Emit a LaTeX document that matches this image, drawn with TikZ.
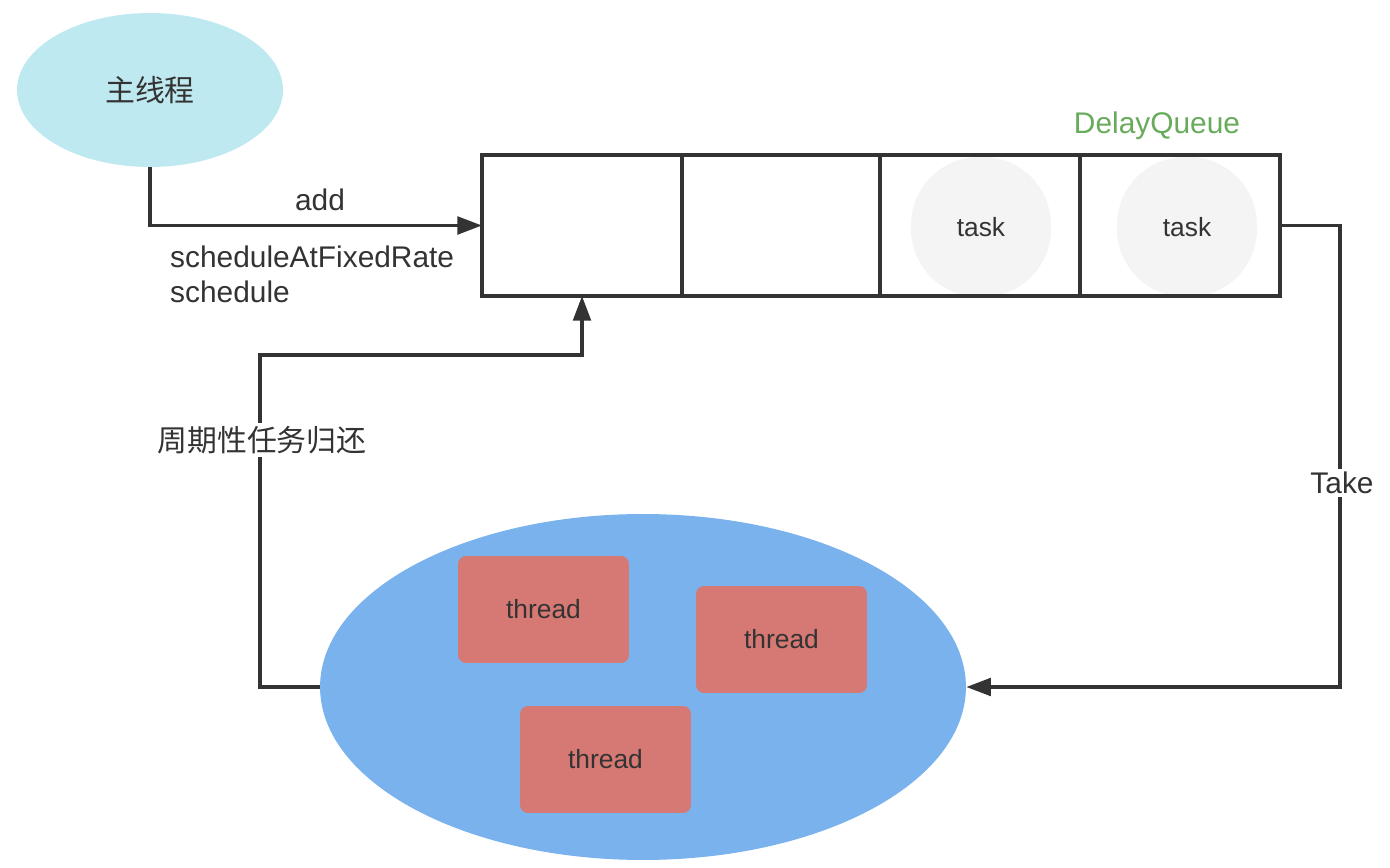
\documentclass[tikz,border=0pt]{standalone}
\usepackage{fontspec}
\setmainfont{Liberation Sans}
\newfontfamily\cjk{Noto Sans CJK SC}
\usetikzlibrary{shapes.geometric,arrows.meta}
\definecolor{ink}{HTML}{333333}
\definecolor{mainblue}{HTML}{BFE9F0}
\definecolor{poolblue}{HTML}{7AB2EE}
\definecolor{threadred}{HTML}{D67873}
\definecolor{taskgrey}{HTML}{F4F4F4}
\definecolor{qgreen}{HTML}{67AB5B}
\begin{document}
\begin{tikzpicture}[x=0.02cm,y=-0.02cm,
    big/.style={font=\fontsize{17}{20}\selectfont,text=ink},
    small/.style={font=\fontsize{15}{18}\selectfont,text=ink},
    cell/.style={draw=ink,line width=3.5pt*0.567,minimum width=4cm,minimum height=2.82cm,inner sep=0,outer sep=0},
    taskbox/.style={fill=taskgrey,rounded corners=1.36cm,minimum width=2.8cm,minimum height=2.8cm,small},
    threadbox/.style={fill=threadred,rounded corners=0.16cm,minimum width=3.42cm,minimum height=2.14cm,small},
    flow/.style={draw=ink,line width=3.5pt*0.567,-{Triangle[length=14pt,width=10pt]}},
    lbl/.style={fill=white,inner sep=2pt,big}]
        \useasboundingbox (0,0) rectangle (1390,868);
        %% Nodes
        \node[ellipse,fill=mainblue,minimum width=5.32cm,minimum height=3.08cm,inner sep=0,big] (m) at (150,90) {\cjk 主线程};
        \node[taskbox] (k1) at (981,227) {task};
        \node[taskbox] (k2) at (1187,227) {task};
        \node[cell] (q1) at (582,225.5) {};
        \node[cell,minimum width=3.96cm] (q2) at (781,225.5) {};
        \node[cell] (q3) at (980,225.5) {};
        \node[cell] (q4) at (1180,225.5) {};
        \node[big,text=qgreen] (dq) at (1157,126) {DelayQueue};
        \node[ellipse,fill=poolblue,minimum width=12.92cm,minimum height=6.92cm,inner sep=0] (pool) at (643,687) {};
        \node[threadbox] (t1) at (543.5,609.5) {thread};
        \node[threadbox] (t2) at (781.5,639.5) {thread};
        \node[threadbox] (t3) at (605.5,759.5) {thread};
        \coordinate (ret) at (260,355);
        \coordinate (tk) at (1340,687);
        %% Lines
        \draw[flow] (m.south) |- (q1.west);
        \node[big] (add) at (320,200) {add};
        \node[big,anchor=west,align=left,font=\fontsize{17}{19.8}\selectfont] (ops) at (164,274.5) {scheduleAtFixedRate\\schedule};
        \draw[flow] (pool.west) -| (ret) -| (q1.south);
        \node[lbl] (back) at (262,440) {\cjk 周期性任务归还};
        \draw[flow] (q4.east) -| (tk) -- (pool.east);
        \node[lbl] (take) at (1342,483) {Take};
    \end{tikzpicture}
\end{document}
